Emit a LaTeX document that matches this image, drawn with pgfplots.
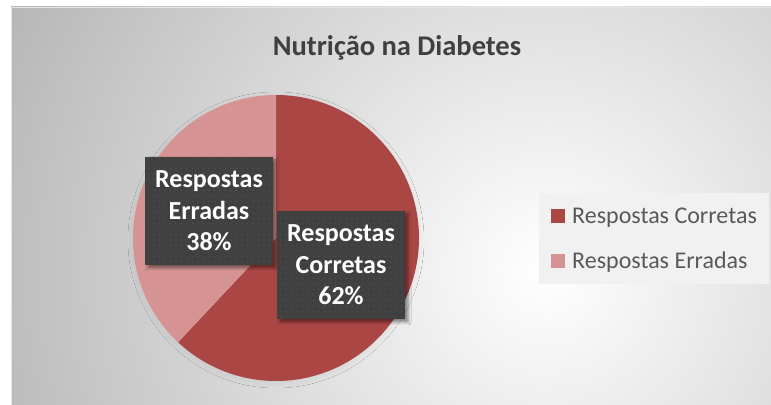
\documentclass[border=0pt]{standalone}
\usepackage{pgfplots}
\pgfplotsset{compat=1.18}
\usepackage{pgfplotstable}
\usepackage{fontspec}
\setmainfont{Carlito}
\usetikzlibrary{shadows.blur,patterns.meta}

\definecolor{corr}{HTML}{AA4644}
\definecolor{err}{HTML}{D59493}
\definecolor{lblbox}{HTML}{404040}
\definecolor{titlec}{HTML}{404040}
\definecolor{legtext}{HTML}{595959}
\definecolor{legbg}{HTML}{F1F1F1}

\pgfplotstableread{
label value
Corretas 62
Erradas 38
}\piedata

\begin{document}
\begin{tikzpicture}[x=1bp,y=1bp]
\useasboundingbox (0,0) rectangle (771bp,405bp);
\begin{scope}
\clip (11bp,0bp) rectangle (771bp,398bp);
\shade[inner color=white, outer color=black!30] (545bp,135bp) circle (630bp);
\end{scope}
\draw[black!10, line width=1bp] (11.5bp,0bp) -- (11.5bp,397.5bp) -- (771bp,397.5bp);

\pgfplotstablegetelem{0}{value}\of\piedata \let\vA\pgfplotsretval
\pgfplotstablegetelem{1}{value}\of\piedata \let\vB\pgfplotsretval
\pgfmathsetmacro\angA{90-3.6*\vA}
\pgfmathsetmacro\angB{\angA-3.6*\vB}

\begin{axis}[
  x=1bp, y=1bp, xmin=0, xmax=771, ymin=0, ymax=405,
  hide axis, at={(0,0)}, anchor=south west, clip=false,
  legend image code/.code={\fill[#1, draw=none] (0bp,-7bp) rectangle (14bp,7bp);},
  legend style={
    at={(539/771,212/405)}, anchor=north west,
    fill=legbg, draw=none,
    font=\fontsize{24bp}{28bp}\selectfont, text=legtext,
    inner xsep=12bp, inner ysep=12.5bp, row sep=24bp,
    nodes={inner sep=0pt, text height=17.5bp, text depth=3.5bp},
    cells={anchor=west},
    /tikz/every odd column/.append style={column sep=7bp},
  },
]
\addlegendimage{fill=corr}
\addlegendentry{Respostas Corretas}
\addlegendimage{fill=err}
\addlegendentry{Respostas Erradas}

\path[blur shadow={shadow xshift=0bp, shadow yshift=-2bp, shadow blur radius=7bp, shadow blur steps=24, shadow opacity=9}]
  (axis cs:276,167) circle[radius=141bp];
\fill[corr] (axis cs:276,167) -- +(90:143bp) arc[start angle=90, end angle=\angA, radius=143bp] -- cycle;
\fill[err] (axis cs:276,167) -- +(\angA:143bp) arc[start angle=\angA, end angle=\angB, radius=143bp] -- cycle;

\tikzset{lbl/.style={fill=lblbox, text=white,
  font=\bfseries\fontsize{26bp}{31.5bp}\selectfont, align=center,
  minimum width=128bp, minimum height=108bp, inner sep=0pt,
  blur shadow={shadow xshift=3bp, shadow yshift=-3bp, shadow blur radius=3bp, shadow opacity=45},
  postaction={pattern={Dots[radius=0.6bp,distance=5.5bp]}, pattern color=white!12!lblbox}}}
\node[lbl] at (axis cs:209,194) {Respostas\\Erradas\\38\%};
\node[lbl] at (axis cs:341,140) {Respostas\\Corretas\\62\%};

\node[font=\bfseries\fontsize{28.5bp}{33bp}\selectfont, text=titlec, anchor=base]
  at (axis cs:397,349) {Nutrição na Diabetes};
\end{axis}
\end{tikzpicture}
\end{document}
